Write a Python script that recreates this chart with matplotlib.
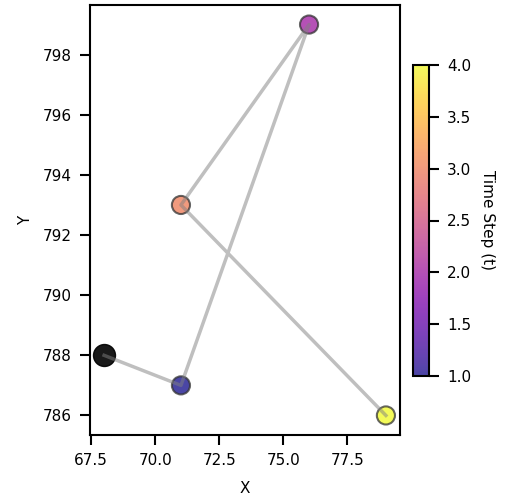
import matplotlib
matplotlib.use("Agg")
import matplotlib.pyplot as plt
import numpy as np

x_vals = [68, 71, 76, 71, 79]
y_vals = [788, 787, 799, 793, 786]
t_vals = [0, 1, 2, 3, 4]
x_ticks = [67.5, 70.0, 72.5, 75.0, 77.5]
y_ticks = [786, 788, 790, 792, 794, 796, 798]
cbar_ticks = [1.0, 1.5, 2.0, 2.5, 3.0, 3.5, 4.0]

fig = plt.figure(figsize=(5.08, 5.01), dpi=100)
ax = fig.add_axes([90/508, 1-435/501, 310/508, 430/501])
cax = fig.add_axes([413/508, 1-376/501, 16/508, 311/501])

sc = ax.scatter(x_vals[1:], y_vals[1:], c=t_vals[1:], cmap='plasma', vmin=1, vmax=4,
                s=170, alpha=0.75, edgecolors='#333333', linewidths=1.5, zorder=2)
ax.scatter(x_vals[:1], y_vals[:1], c='black', s=250, alpha=0.9, zorder=2)
ax.plot(x_vals, y_vals, color='gray', alpha=0.5, lw=2.5, zorder=3)

ax.set_xticks(x_ticks)
ax.set_xticklabels([f"{v:.1f}" for v in x_ticks])
ax.set_yticks(y_ticks)
ax.set_xlim(67.45, 79.55)
ax.set_ylim(785.35, 799.65)
ax.set_xlabel('X', fontsize=11, labelpad=9)
ax.set_ylabel('Y', fontsize=11, labelpad=7)
for a in (ax, cax):
    for s in a.spines.values():
        s.set_linewidth(1.5)
    a.tick_params(length=7, width=1.5, labelsize=11, pad=6)

cb = fig.colorbar(sc, cax=cax, ticks=cbar_ticks)
cb.solids.set_alpha(0.75)
cb.outline.set_linewidth(1.5)
cb.set_label('Time Step (t)', rotation=270, labelpad=17, fontsize=11)

fig.savefig('out.png', dpi=100)
